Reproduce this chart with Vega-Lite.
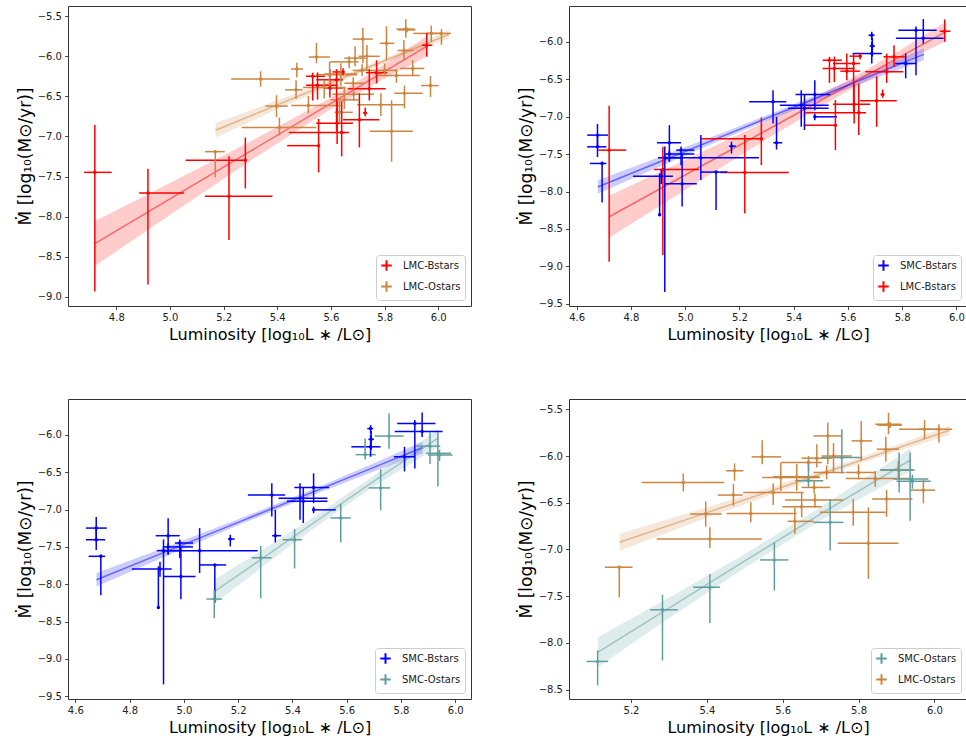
{
  "$schema": "https://vega.github.io/schema/vega-lite/v6.json",
  "padding": {"left": 15, "top": 5, "right": 0, "bottom": 0},
  "config": {
    "font": "DejaVu Sans",
    "view": {"stroke": "#333333", "strokeWidth": 1},
    "axis": {"domain": false, "grid": false, "tickSize": 3.5, "tickColor": "#222222", "tickWidth": 0.8, "labelFont": "DejaVu Sans", "labelFontSize": 10, "labelColor": "#222222", "labelPadding": 3, "titleFont": "DejaVu Sans", "titleFontSize": 16, "titleFontWeight": "normal", "titleColor": "#000000", "labelFlush": false, "labelOverlap": false},
    "axisX": {"titlePadding": 4},
    "axisY": {"titlePadding": 3, "titleFontSize": 17},
    "legend": {"orient": "bottom-right", "offset": 6, "fillColor": "#ffffff", "strokeColor": "#cccccc", "cornerRadius": 3, "padding": 4, "labelFont": "DejaVu Sans", "labelFontSize": 10, "labelColor": "#222222", "symbolType": "M-1,0H1M0,-1V1", "symbolSize": 110, "symbolStrokeWidth": 2, "rowPadding": 2, "labelOffset": 10}
  },
  "datasets": {
    "pts": [
      {"s": "LMC-Bstars", "x": 4.72, "y": -7.448, "x1": 4.68, "x2": 4.783, "y1": -6.857, "y2": -8.936},
      {"s": "LMC-Bstars", "x": 4.918, "y": -7.706, "x1": 4.885, "x2": 5.052, "y1": -7.404, "y2": -8.848},
      {"s": "LMC-Bstars", "x": 5.22, "y": -7.746, "x1": 5.13, "x2": 5.382, "y1": -7.248, "y2": -8.292},
      {"s": "LMC-Bstars", "x": 5.281, "y": -7.297, "x1": 5.058, "x2": 5.285, "y1": -7.013, "y2": -7.648},
      {"s": "LMC-Bstars", "x": 5.532, "y": -6.249, "x1": 5.507, "x2": 5.578, "y1": -6.204, "y2": -6.551},
      {"s": "LMC-Bstars", "x": 5.55, "y": -6.36, "x1": 5.507, "x2": 5.625, "y1": -6.2, "y2": -6.54},
      {"s": "LMC-Bstars", "x": 5.554, "y": -7.115, "x1": 5.437, "x2": 5.554, "y1": -6.782, "y2": -7.448},
      {"s": "LMC-Bstars", "x": 5.596, "y": -6.395, "x1": 5.572, "x2": 5.645, "y1": -6.16, "y2": -6.515},
      {"s": "LMC-Bstars", "x": 5.621, "y": -6.293, "x1": 5.545, "x2": 5.645, "y1": -6.16, "y2": -6.937},
      {"s": "LMC-Bstars", "x": 5.623, "y": -6.835, "x1": 5.545, "x2": 5.682, "y1": -6.56, "y2": -7.093},
      {"s": "LMC-Bstars", "x": 5.64, "y": -6.95, "x1": 5.443, "x2": 5.667, "y1": -6.56, "y2": -7.248},
      {"s": "LMC-Bstars", "x": 5.645, "y": -6.195, "x1": 5.606, "x2": 5.651, "y1": -6.15, "y2": -6.24},
      {"s": "LMC-Bstars", "x": 5.706, "y": -6.791, "x1": 5.645, "x2": 5.78, "y1": -6.462, "y2": -7.137},
      {"s": "LMC-Bstars", "x": 5.728, "y": -6.706, "x1": 5.72, "x2": 5.735, "y1": -6.64, "y2": -6.75},
      {"s": "LMC-Bstars", "x": 5.743, "y": -6.404, "x1": 5.664, "x2": 5.804, "y1": -6.16, "y2": -6.551},
      {"s": "LMC-Bstars", "x": 5.77, "y": -6.204, "x1": 5.731, "x2": 5.81, "y1": -6.049, "y2": -6.338},
      {"s": "LMC-Bstars", "x": 5.957, "y": -5.862, "x1": 5.939, "x2": 5.978, "y1": -5.707, "y2": -6.004},
      {"s": "LMC-Ostars", "x": 5.169, "y": -7.19, "x1": 5.131, "x2": 5.204, "y1": -7.173, "y2": -7.51},
      {"s": "LMC-Ostars", "x": 5.338, "y": -6.283, "x1": 5.228, "x2": 5.446, "y1": -6.187, "y2": -6.379},
      {"s": "LMC-Ostars", "x": 5.397, "y": -6.621, "x1": 5.356, "x2": 5.439, "y1": -6.486, "y2": -6.756},
      {"s": "LMC-Ostars", "x": 5.408, "y": -6.888, "x1": 5.268, "x2": 5.545, "y1": -6.763, "y2": -6.988},
      {"s": "LMC-Ostars", "x": 5.47, "y": -6.418, "x1": 5.429, "x2": 5.494, "y1": -6.3, "y2": -6.532},
      {"s": "LMC-Ostars", "x": 5.473, "y": -6.158, "x1": 5.451, "x2": 5.496, "y1": -6.08, "y2": -6.265},
      {"s": "LMC-Ostars", "x": 5.516, "y": -6.614, "x1": 5.452, "x2": 5.637, "y1": -6.496, "y2": -6.71},
      {"s": "LMC-Ostars", "x": 5.546, "y": -6.009, "x1": 5.518, "x2": 5.596, "y1": -5.831, "y2": -6.087},
      {"s": "LMC-Ostars", "x": 5.575, "y": -6.39, "x1": 5.496, "x2": 5.655, "y1": -6.294, "y2": -6.525},
      {"s": "LMC-Ostars", "x": 5.595, "y": -6.23, "x1": 5.546, "x2": 5.698, "y1": -6.069, "y2": -6.372},
      {"s": "LMC-Ostars", "x": 5.637, "y": -6.222, "x1": 5.575, "x2": 5.696, "y1": -6.087, "y2": -6.372},
      {"s": "LMC-Ostars", "x": 5.632, "y": -6.699, "x1": 5.613, "x2": 5.681, "y1": -6.55, "y2": -6.835},
      {"s": "LMC-Ostars", "x": 5.65, "y": -6.543, "x1": 5.599, "x2": 5.703, "y1": -6.39, "y2": -6.657},
      {"s": "LMC-Ostars", "x": 5.668, "y": -6.069, "x1": 5.596, "x2": 5.703, "y1": -6.0, "y2": -6.15},
      {"s": "LMC-Ostars", "x": 5.685, "y": -6.472, "x1": 5.606, "x2": 5.76, "y1": -6.4, "y2": -6.55},
      {"s": "LMC-Ostars", "x": 5.683, "y": -6.336, "x1": 5.65, "x2": 5.725, "y1": -6.26, "y2": -6.4},
      {"s": "LMC-Ostars", "x": 5.69, "y": -6.023, "x1": 5.65, "x2": 5.729, "y1": -5.874, "y2": -6.123},
      {"s": "LMC-Ostars", "x": 5.719, "y": -5.785, "x1": 5.681, "x2": 5.756, "y1": -5.642, "y2": -6.087},
      {"s": "LMC-Ostars", "x": 5.716, "y": -6.176, "x1": 5.681, "x2": 5.764, "y1": -6.1, "y2": -6.25},
      {"s": "LMC-Ostars", "x": 5.734, "y": -6.0, "x1": 5.703, "x2": 5.782, "y1": -5.86, "y2": -6.17},
      {"s": "LMC-Ostars", "x": 5.786, "y": -6.603, "x1": 5.698, "x2": 5.872, "y1": -6.461, "y2": -6.745},
      {"s": "LMC-Ostars", "x": 5.8, "y": -6.176, "x1": 5.766, "x2": 5.844, "y1": -6.09, "y2": -6.25},
      {"s": "LMC-Ostars", "x": 5.807, "y": -5.838, "x1": 5.782, "x2": 5.836, "y1": -5.625, "y2": -6.052},
      {"s": "LMC-Ostars", "x": 5.826, "y": -6.934, "x1": 5.745, "x2": 5.905, "y1": -6.55, "y2": -7.315},
      {"s": "LMC-Ostars", "x": 5.844, "y": -6.24, "x1": 5.766, "x2": 5.931, "y1": -6.16, "y2": -6.33},
      {"s": "LMC-Ostars", "x": 5.874, "y": -6.461, "x1": 5.836, "x2": 5.942, "y1": -6.365, "y2": -6.65},
      {"s": "LMC-Ostars", "x": 5.872, "y": -5.927, "x1": 5.848, "x2": 5.907, "y1": -5.795, "y2": -6.059},
      {"s": "LMC-Ostars", "x": 5.879, "y": -5.66, "x1": 5.844, "x2": 5.912, "y1": -5.536, "y2": -5.767},
      {"s": "LMC-Ostars", "x": 5.883, "y": -5.67, "x1": 5.85, "x2": 5.915, "y1": -5.64, "y2": -5.7},
      {"s": "LMC-Ostars", "x": 5.905, "y": -6.151, "x1": 5.858, "x2": 5.948, "y1": -6.05, "y2": -6.25},
      {"s": "LMC-Ostars", "x": 5.971, "y": -6.365, "x1": 5.936, "x2": 6.002, "y1": -6.247, "y2": -6.507},
      {"s": "LMC-Ostars", "x": 5.974, "y": -5.714, "x1": 5.907, "x2": 6.015, "y1": -5.617, "y2": -5.82},
      {"s": "LMC-Ostars", "x": 6.012, "y": -5.714, "x1": 5.958, "x2": 6.047, "y1": -5.66, "y2": -5.856},
      {"s": "SMC-Bstars", "x": 4.677, "y": -7.248, "x1": 4.639, "x2": 4.716, "y1": -7.1, "y2": -7.4},
      {"s": "SMC-Bstars", "x": 4.677, "y": -7.404, "x1": 4.639, "x2": 4.71, "y1": -7.25, "y2": -7.54},
      {"s": "SMC-Bstars", "x": 4.694, "y": -7.626, "x1": 4.649, "x2": 4.71, "y1": -7.6, "y2": -8.146},
      {"s": "SMC-Bstars", "x": 4.906, "y": -8.31, "x1": 4.903, "x2": 4.909, "y1": -7.76, "y2": -8.32},
      {"s": "SMC-Bstars", "x": 4.912, "y": -7.795, "x1": 4.808, "x2": 4.955, "y1": -7.7, "y2": -7.9},
      {"s": "SMC-Bstars", "x": 4.925, "y": -7.55, "x1": 4.9, "x2": 4.99, "y1": -7.4, "y2": -9.34},
      {"s": "SMC-Bstars", "x": 4.942, "y": -7.35, "x1": 4.896, "x2": 4.985, "y1": -7.115, "y2": -7.604},
      {"s": "SMC-Bstars", "x": 4.942, "y": -7.5, "x1": 4.922, "x2": 5.034, "y1": -7.45, "y2": -7.6},
      {"s": "SMC-Bstars", "x": 4.985, "y": -7.448, "x1": 4.967, "x2": 5.034, "y1": -7.4, "y2": -7.65},
      {"s": "SMC-Bstars", "x": 4.989, "y": -7.897, "x1": 4.924, "x2": 5.043, "y1": -7.5, "y2": -8.2},
      {"s": "SMC-Bstars", "x": 5.058, "y": -7.55, "x1": 4.924, "x2": 5.272, "y1": -7.248, "y2": -7.848},
      {"s": "SMC-Bstars", "x": 5.114, "y": -7.741, "x1": 5.058, "x2": 5.156, "y1": -7.741, "y2": -8.248},
      {"s": "SMC-Bstars", "x": 5.171, "y": -7.395, "x1": 5.162, "x2": 5.187, "y1": -7.337, "y2": -7.493},
      {"s": "SMC-Bstars", "x": 5.324, "y": -6.804, "x1": 5.236, "x2": 5.373, "y1": -6.649, "y2": -7.093},
      {"s": "SMC-Bstars", "x": 5.337, "y": -7.35, "x1": 5.325, "x2": 5.358, "y1": -7.004, "y2": -7.44},
      {"s": "SMC-Bstars", "x": 5.428, "y": -6.849, "x1": 5.349, "x2": 5.529, "y1": -6.649, "y2": -7.137},
      {"s": "SMC-Bstars", "x": 5.44, "y": -6.89, "x1": 5.38, "x2": 5.529, "y1": -6.7, "y2": -7.18},
      {"s": "SMC-Bstars", "x": 5.478, "y": -6.706, "x1": 5.407, "x2": 5.535, "y1": -6.515, "y2": -6.915},
      {"s": "SMC-Bstars", "x": 5.478, "y": -7.004, "x1": 5.478, "x2": 5.56, "y1": -6.96, "y2": -7.05},
      {"s": "SMC-Bstars", "x": 5.688, "y": -5.916, "x1": 5.676, "x2": 5.698, "y1": -5.87, "y2": -5.98},
      {"s": "SMC-Bstars", "x": 5.69, "y": -6.06, "x1": 5.68, "x2": 5.7, "y1": -5.95, "y2": -6.2},
      {"s": "SMC-Bstars", "x": 5.688, "y": -6.16, "x1": 5.617, "x2": 5.725, "y1": -6.0, "y2": -6.293},
      {"s": "SMC-Bstars", "x": 5.813, "y": -6.293, "x1": 5.774, "x2": 5.853, "y1": -6.16, "y2": -6.49},
      {"s": "SMC-Bstars", "x": 5.851, "y": -5.849, "x1": 5.786, "x2": 5.927, "y1": -5.8, "y2": -6.449},
      {"s": "SMC-Bstars", "x": 5.878, "y": -5.956, "x1": 5.777, "x2": 5.953, "y1": -5.7, "y2": -6.03},
      {"s": "SMC-Ostars", "x": 5.112, "y": -8.198, "x1": 5.083, "x2": 5.14, "y1": -8.08, "y2": -8.454},
      {"s": "SMC-Ostars", "x": 5.283, "y": -7.646, "x1": 5.25, "x2": 5.323, "y1": -7.486, "y2": -8.187},
      {"s": "SMC-Ostars", "x": 5.408, "y": -7.404, "x1": 5.364, "x2": 5.435, "y1": -7.262, "y2": -7.788},
      {"s": "SMC-Ostars", "x": 5.578, "y": -7.112, "x1": 5.54, "x2": 5.615, "y1": -6.923, "y2": -7.44},
      {"s": "SMC-Ostars", "x": 5.725, "y": -6.71, "x1": 5.681, "x2": 5.76, "y1": -6.46, "y2": -7.012},
      {"s": "SMC-Ostars", "x": 5.756, "y": -6.016, "x1": 5.703, "x2": 5.81, "y1": -5.714, "y2": -6.187},
      {"s": "SMC-Ostars", "x": 5.668, "y": -6.265, "x1": 5.633, "x2": 5.707, "y1": -6.05, "y2": -6.33},
      {"s": "SMC-Ostars", "x": 5.907, "y": -6.151, "x1": 5.857, "x2": 5.945, "y1": -5.963, "y2": -6.39},
      {"s": "SMC-Ostars", "x": 5.936, "y": -6.247, "x1": 5.892, "x2": 5.984, "y1": -5.963, "y2": -6.692},
      {"s": "SMC-Ostars", "x": 5.942, "y": -6.27, "x1": 5.9, "x2": 5.99, "y1": -6.2, "y2": -6.35}
    ],
    "fit": [
      {"s": "LMC-Bstars", "x": 4.72, "y": -8.337, "lo": -8.617, "hi": -8.057},
      {"s": "LMC-Bstars", "x": 5.0, "y": -7.78, "lo": -7.98, "hi": -7.58},
      {"s": "LMC-Bstars", "x": 5.3, "y": -7.183, "lo": -7.303, "hi": -7.063},
      {"s": "LMC-Bstars", "x": 5.6, "y": -6.586, "lo": -6.656, "hi": -6.516},
      {"s": "LMC-Bstars", "x": 5.8, "y": -6.188, "lo": -6.278, "hi": -6.098},
      {"s": "LMC-Bstars", "x": 5.96, "y": -5.87, "lo": -6.0, "hi": -5.74},
      {"s": "LMC-Ostars", "x": 5.17, "y": -6.923, "lo": -7.013, "hi": -6.833},
      {"s": "LMC-Ostars", "x": 5.4, "y": -6.606, "lo": -6.661, "hi": -6.551},
      {"s": "LMC-Ostars", "x": 5.7, "y": -6.193, "lo": -6.223, "hi": -6.163},
      {"s": "LMC-Ostars", "x": 5.9, "y": -5.918, "lo": -5.953, "hi": -5.883},
      {"s": "LMC-Ostars", "x": 6.04, "y": -5.725, "lo": -5.775, "hi": -5.675},
      {"s": "SMC-Bstars", "x": 4.678, "y": -7.94, "lo": -8.03, "hi": -7.85},
      {"s": "SMC-Bstars", "x": 4.9, "y": -7.613, "lo": -7.678, "hi": -7.548},
      {"s": "SMC-Bstars", "x": 5.2, "y": -7.171, "lo": -7.211, "hi": -7.131},
      {"s": "SMC-Bstars", "x": 5.5, "y": -6.73, "lo": -6.77, "hi": -6.69},
      {"s": "SMC-Bstars", "x": 5.7, "y": -6.435, "lo": -6.49, "hi": -6.38},
      {"s": "SMC-Bstars", "x": 5.88, "y": -6.17, "lo": -6.25, "hi": -6.09},
      {"s": "SMC-Ostars", "x": 5.112, "y": -8.1, "lo": -8.26, "hi": -7.94},
      {"s": "SMC-Ostars", "x": 5.3, "y": -7.627, "lo": -7.737, "hi": -7.517},
      {"s": "SMC-Ostars", "x": 5.5, "y": -7.123, "lo": -7.198, "hi": -7.048},
      {"s": "SMC-Ostars", "x": 5.7, "y": -6.619, "lo": -6.689, "hi": -6.549},
      {"s": "SMC-Ostars", "x": 5.938, "y": -6.04, "lo": -6.16, "hi": -5.92}
    ]
  },
  "resolve": {"scale": {"color": "independent", "fill": "independent", "stroke": "independent"}, "legend": {"color": "independent"}},
  "spacing": 55,
  "vconcat": [
    {
      "spacing": 44,
      "resolve": {"scale": {"color": "independent", "fill": "independent", "stroke": "independent"}, "legend": {"color": "independent"}},
      "hconcat": [
        {
          "width": 403, "height": 300,
          "layer": [
            {"data": {"name": "fit"}, "transform": [{"filter": {"field": "s", "oneOf": ["LMC-Bstars", "LMC-Ostars"]}}],
             "mark": {"type": "area", "opacity": 0.2, "clip": true},
             "encoding": {
               "x": {"field": "x", "type": "quantitative", "scale": {"domain": [4.62, 6.122], "nice": false, "zero": false}, "title": "Luminosity [log₁₀L ∗ /L⊙]", "axis": {"values": [4.8, 5.0, 5.2, 5.4, 5.6, 5.8, 6.0], "format": ".1f"}},
               "y": {"field": "lo", "type": "quantitative", "scale": {"domain": [-9.116, -5.372], "nice": false, "zero": false}, "title": "Ṁ [log₁₀(M⊙/yr)]", "axis": {"values": [-9.0, -8.5, -8.0, -7.5, -7.0, -6.5, -6.0, -5.5], "format": ".1f"}},
               "y2": {"field": "hi"},
               "fill": {"field": "s", "type": "nominal", "scale": {"range": ["#ff0000", "#cd853f"]}, "legend": null}}},
            {"data": {"name": "fit"}, "transform": [{"filter": {"field": "s", "oneOf": ["LMC-Bstars", "LMC-Ostars"]}}],
             "mark": {"type": "line", "opacity": 0.5, "strokeWidth": 1.5, "clip": true},
             "encoding": {
               "x": {"field": "x", "type": "quantitative", "scale": {"domain": [4.62, 6.122], "nice": false, "zero": false}, "title": "Luminosity [log₁₀L ∗ /L⊙]"},
               "y": {"field": "y", "type": "quantitative", "scale": {"domain": [-9.116, -5.372], "nice": false, "zero": false}, "title": "Ṁ [log₁₀(M⊙/yr)]"},
               "stroke": {"field": "s", "type": "nominal", "scale": {"range": ["#ff0000", "#cd853f"]}, "legend": null}}},
            {"data": {"name": "pts"}, "transform": [{"filter": {"field": "s", "oneOf": ["LMC-Bstars", "LMC-Ostars"]}}],
             "mark": {"type": "rule", "strokeWidth": 1.5, "clip": true},
             "encoding": {
               "x": {"field": "x1", "type": "quantitative", "scale": {"domain": [4.62, 6.122], "nice": false, "zero": false}, "title": "Luminosity [log₁₀L ∗ /L⊙]"},
               "x2": {"field": "x2"},
               "y": {"field": "y", "type": "quantitative", "scale": {"domain": [-9.116, -5.372], "nice": false, "zero": false}, "title": "Ṁ [log₁₀(M⊙/yr)]"},
               "color": {"field": "s", "type": "nominal", "scale": {"domain": ["LMC-Bstars", "LMC-Ostars"], "range": ["#ff0000", "#cd853f"]}, "legend": {"title": null}}}},
            {"data": {"name": "pts"}, "transform": [{"filter": {"field": "s", "oneOf": ["LMC-Bstars", "LMC-Ostars"]}}],
             "mark": {"type": "rule", "strokeWidth": 1.5, "clip": true},
             "encoding": {
               "x": {"field": "x", "type": "quantitative", "scale": {"domain": [4.62, 6.122], "nice": false, "zero": false}, "title": "Luminosity [log₁₀L ∗ /L⊙]"},
               "y": {"field": "y1", "type": "quantitative", "scale": {"domain": [-9.116, -5.372], "nice": false, "zero": false}, "title": "Ṁ [log₁₀(M⊙/yr)]"},
               "y2": {"field": "y2"},
               "stroke": {"field": "s", "type": "nominal", "scale": {"range": ["#ff0000", "#cd853f"]}, "legend": null}}},
            {"data": {"name": "pts"}, "transform": [{"filter": {"field": "s", "oneOf": ["LMC-Bstars", "LMC-Ostars"]}}],
             "mark": {"type": "circle", "size": 12, "opacity": 1, "clip": true},
             "encoding": {
               "x": {"field": "x", "type": "quantitative", "scale": {"domain": [4.62, 6.122], "nice": false, "zero": false}, "title": "Luminosity [log₁₀L ∗ /L⊙]"},
               "y": {"field": "y", "type": "quantitative", "scale": {"domain": [-9.116, -5.372], "nice": false, "zero": false}, "title": "Ṁ [log₁₀(M⊙/yr)]"},
               "fill": {"field": "s", "type": "nominal", "scale": {"range": ["#ff0000", "#cd853f"]}, "legend": null}}}
          ]
        },
        {
          "width": 398, "height": 300,
          "layer": [
            {"data": {"name": "fit"}, "transform": [{"filter": {"field": "s", "oneOf": ["SMC-Bstars", "LMC-Bstars"]}}],
             "mark": {"type": "area", "opacity": 0.2, "clip": true},
             "encoding": {
               "x": {"field": "x", "type": "quantitative", "scale": {"domain": [4.572, 6.039], "nice": false, "zero": false}, "title": "Luminosity [log₁₀L ∗ /L⊙]", "axis": {"values": [4.6, 4.8, 5.0, 5.2, 5.4, 5.6, 5.8, 6.0], "format": ".1f"}},
               "y": {"field": "lo", "type": "quantitative", "scale": {"domain": [-9.527, -5.526], "nice": false, "zero": false}, "title": "Ṁ [log₁₀(M⊙/yr)]", "axis": {"values": [-9.5, -9.0, -8.5, -8.0, -7.5, -7.0, -6.5, -6.0], "format": ".1f"}},
               "y2": {"field": "hi"},
               "fill": {"field": "s", "type": "nominal", "scale": {"range": ["#ff0000", "#0000ff"]}, "legend": null}}},
            {"data": {"name": "fit"}, "transform": [{"filter": {"field": "s", "oneOf": ["SMC-Bstars", "LMC-Bstars"]}}],
             "mark": {"type": "line", "opacity": 0.5, "strokeWidth": 1.5, "clip": true},
             "encoding": {
               "x": {"field": "x", "type": "quantitative", "scale": {"domain": [4.572, 6.039], "nice": false, "zero": false}, "title": "Luminosity [log₁₀L ∗ /L⊙]"},
               "y": {"field": "y", "type": "quantitative", "scale": {"domain": [-9.527, -5.526], "nice": false, "zero": false}, "title": "Ṁ [log₁₀(M⊙/yr)]"},
               "stroke": {"field": "s", "type": "nominal", "scale": {"range": ["#ff0000", "#0000ff"]}, "legend": null}}},
            {"data": {"name": "pts"}, "transform": [{"filter": {"field": "s", "oneOf": ["SMC-Bstars", "LMC-Bstars"]}}],
             "mark": {"type": "rule", "strokeWidth": 1.5, "clip": true},
             "encoding": {
               "x": {"field": "x1", "type": "quantitative", "scale": {"domain": [4.572, 6.039], "nice": false, "zero": false}, "title": "Luminosity [log₁₀L ∗ /L⊙]"},
               "x2": {"field": "x2"},
               "y": {"field": "y", "type": "quantitative", "scale": {"domain": [-9.527, -5.526], "nice": false, "zero": false}, "title": "Ṁ [log₁₀(M⊙/yr)]"},
               "color": {"field": "s", "type": "nominal", "scale": {"domain": ["SMC-Bstars", "LMC-Bstars"], "range": ["#0000ff", "#ff0000"]}, "legend": {"title": null}}}},
            {"data": {"name": "pts"}, "transform": [{"filter": {"field": "s", "oneOf": ["SMC-Bstars", "LMC-Bstars"]}}],
             "mark": {"type": "rule", "strokeWidth": 1.5, "clip": true},
             "encoding": {
               "x": {"field": "x", "type": "quantitative", "scale": {"domain": [4.572, 6.039], "nice": false, "zero": false}, "title": "Luminosity [log₁₀L ∗ /L⊙]"},
               "y": {"field": "y1", "type": "quantitative", "scale": {"domain": [-9.527, -5.526], "nice": false, "zero": false}, "title": "Ṁ [log₁₀(M⊙/yr)]"},
               "y2": {"field": "y2"},
               "stroke": {"field": "s", "type": "nominal", "scale": {"range": ["#ff0000", "#0000ff"]}, "legend": null}}},
            {"data": {"name": "pts"}, "transform": [{"filter": {"field": "s", "oneOf": ["SMC-Bstars", "LMC-Bstars"]}}],
             "mark": {"type": "circle", "size": 12, "opacity": 1, "clip": true},
             "encoding": {
               "x": {"field": "x", "type": "quantitative", "scale": {"domain": [4.572, 6.039], "nice": false, "zero": false}, "title": "Luminosity [log₁₀L ∗ /L⊙]"},
               "y": {"field": "y", "type": "quantitative", "scale": {"domain": [-9.527, -5.526], "nice": false, "zero": false}, "title": "Ṁ [log₁₀(M⊙/yr)]"},
               "fill": {"field": "s", "type": "nominal", "scale": {"range": ["#ff0000", "#0000ff"]}, "legend": null}}}
          ]
        }
      ]
    },
    {
      "spacing": 44,
      "resolve": {"scale": {"color": "independent", "fill": "independent", "stroke": "independent"}, "legend": {"color": "independent"}},
      "hconcat": [
        {
          "width": 403, "height": 300,
          "layer": [
            {"data": {"name": "fit"}, "transform": [{"filter": {"field": "s", "oneOf": ["SMC-Bstars", "SMC-Ostars"]}}],
             "mark": {"type": "area", "opacity": 0.2, "clip": true},
             "encoding": {
               "x": {"field": "x", "type": "quantitative", "scale": {"domain": [4.573, 6.058], "nice": false, "zero": false}, "title": "Luminosity [log₁₀L ∗ /L⊙]", "axis": {"values": [4.6, 4.8, 5.0, 5.2, 5.4, 5.6, 5.8, 6.0], "format": ".1f"}},
               "y": {"field": "lo", "type": "quantitative", "scale": {"domain": [-9.536, -5.52], "nice": false, "zero": false}, "title": "Ṁ [log₁₀(M⊙/yr)]", "axis": {"values": [-9.5, -9.0, -8.5, -8.0, -7.5, -7.0, -6.5, -6.0], "format": ".1f"}},
               "y2": {"field": "hi"},
               "fill": {"field": "s", "type": "nominal", "scale": {"range": ["#0000ff", "#5f9ea0"]}, "legend": null}}},
            {"data": {"name": "fit"}, "transform": [{"filter": {"field": "s", "oneOf": ["SMC-Bstars", "SMC-Ostars"]}}],
             "mark": {"type": "line", "opacity": 0.5, "strokeWidth": 1.5, "clip": true},
             "encoding": {
               "x": {"field": "x", "type": "quantitative", "scale": {"domain": [4.573, 6.058], "nice": false, "zero": false}, "title": "Luminosity [log₁₀L ∗ /L⊙]"},
               "y": {"field": "y", "type": "quantitative", "scale": {"domain": [-9.536, -5.52], "nice": false, "zero": false}, "title": "Ṁ [log₁₀(M⊙/yr)]"},
               "stroke": {"field": "s", "type": "nominal", "scale": {"range": ["#0000ff", "#5f9ea0"]}, "legend": null}}},
            {"data": {"name": "pts"}, "transform": [{"filter": {"field": "s", "oneOf": ["SMC-Bstars", "SMC-Ostars"]}}],
             "mark": {"type": "rule", "strokeWidth": 1.5, "clip": true},
             "encoding": {
               "x": {"field": "x1", "type": "quantitative", "scale": {"domain": [4.573, 6.058], "nice": false, "zero": false}, "title": "Luminosity [log₁₀L ∗ /L⊙]"},
               "x2": {"field": "x2"},
               "y": {"field": "y", "type": "quantitative", "scale": {"domain": [-9.536, -5.52], "nice": false, "zero": false}, "title": "Ṁ [log₁₀(M⊙/yr)]"},
               "color": {"field": "s", "type": "nominal", "scale": {"domain": ["SMC-Bstars", "SMC-Ostars"], "range": ["#0000ff", "#5f9ea0"]}, "legend": {"title": null}}}},
            {"data": {"name": "pts"}, "transform": [{"filter": {"field": "s", "oneOf": ["SMC-Bstars", "SMC-Ostars"]}}],
             "mark": {"type": "rule", "strokeWidth": 1.5, "clip": true},
             "encoding": {
               "x": {"field": "x", "type": "quantitative", "scale": {"domain": [4.573, 6.058], "nice": false, "zero": false}, "title": "Luminosity [log₁₀L ∗ /L⊙]"},
               "y": {"field": "y1", "type": "quantitative", "scale": {"domain": [-9.536, -5.52], "nice": false, "zero": false}, "title": "Ṁ [log₁₀(M⊙/yr)]"},
               "y2": {"field": "y2"},
               "stroke": {"field": "s", "type": "nominal", "scale": {"range": ["#0000ff", "#5f9ea0"]}, "legend": null}}},
            {"data": {"name": "pts"}, "transform": [{"filter": {"field": "s", "oneOf": ["SMC-Bstars", "SMC-Ostars"]}}],
             "mark": {"type": "circle", "size": 12, "opacity": 1, "clip": true},
             "encoding": {
               "x": {"field": "x", "type": "quantitative", "scale": {"domain": [4.573, 6.058], "nice": false, "zero": false}, "title": "Luminosity [log₁₀L ∗ /L⊙]"},
               "y": {"field": "y", "type": "quantitative", "scale": {"domain": [-9.536, -5.52], "nice": false, "zero": false}, "title": "Ṁ [log₁₀(M⊙/yr)]"},
               "fill": {"field": "s", "type": "nominal", "scale": {"range": ["#0000ff", "#5f9ea0"]}, "legend": null}}}
          ]
        },
        {
          "width": 398, "height": 300,
          "layer": [
            {"data": {"name": "fit"}, "transform": [{"filter": {"field": "s", "oneOf": ["SMC-Ostars", "LMC-Ostars"]}}],
             "mark": {"type": "area", "opacity": 0.2, "clip": true},
             "encoding": {
               "x": {"field": "x", "type": "quantitative", "scale": {"domain": [5.0365, 6.086], "nice": false, "zero": false}, "title": "Luminosity [log₁₀L ∗ /L⊙]", "axis": {"values": [5.2, 5.4, 5.6, 5.8, 6.0], "format": ".1f"}},
               "y": {"field": "lo", "type": "quantitative", "scale": {"domain": [-8.6, -5.39], "nice": false, "zero": false}, "title": "Ṁ [log₁₀(M⊙/yr)]", "axis": {"values": [-8.5, -8.0, -7.5, -7.0, -6.5, -6.0, -5.5], "format": ".1f"}},
               "y2": {"field": "hi"},
               "fill": {"field": "s", "type": "nominal", "scale": {"range": ["#cd853f", "#5f9ea0"]}, "legend": null}}},
            {"data": {"name": "fit"}, "transform": [{"filter": {"field": "s", "oneOf": ["SMC-Ostars", "LMC-Ostars"]}}],
             "mark": {"type": "line", "opacity": 0.5, "strokeWidth": 1.5, "clip": true},
             "encoding": {
               "x": {"field": "x", "type": "quantitative", "scale": {"domain": [5.0365, 6.086], "nice": false, "zero": false}, "title": "Luminosity [log₁₀L ∗ /L⊙]"},
               "y": {"field": "y", "type": "quantitative", "scale": {"domain": [-8.6, -5.39], "nice": false, "zero": false}, "title": "Ṁ [log₁₀(M⊙/yr)]"},
               "stroke": {"field": "s", "type": "nominal", "scale": {"range": ["#cd853f", "#5f9ea0"]}, "legend": null}}},
            {"data": {"name": "pts"}, "transform": [{"filter": {"field": "s", "oneOf": ["SMC-Ostars", "LMC-Ostars"]}}],
             "mark": {"type": "rule", "strokeWidth": 1.5, "clip": true},
             "encoding": {
               "x": {"field": "x1", "type": "quantitative", "scale": {"domain": [5.0365, 6.086], "nice": false, "zero": false}, "title": "Luminosity [log₁₀L ∗ /L⊙]"},
               "x2": {"field": "x2"},
               "y": {"field": "y", "type": "quantitative", "scale": {"domain": [-8.6, -5.39], "nice": false, "zero": false}, "title": "Ṁ [log₁₀(M⊙/yr)]"},
               "color": {"field": "s", "type": "nominal", "scale": {"domain": ["SMC-Ostars", "LMC-Ostars"], "range": ["#5f9ea0", "#cd853f"]}, "legend": {"title": null}}}},
            {"data": {"name": "pts"}, "transform": [{"filter": {"field": "s", "oneOf": ["SMC-Ostars", "LMC-Ostars"]}}],
             "mark": {"type": "rule", "strokeWidth": 1.5, "clip": true},
             "encoding": {
               "x": {"field": "x", "type": "quantitative", "scale": {"domain": [5.0365, 6.086], "nice": false, "zero": false}, "title": "Luminosity [log₁₀L ∗ /L⊙]"},
               "y": {"field": "y1", "type": "quantitative", "scale": {"domain": [-8.6, -5.39], "nice": false, "zero": false}, "title": "Ṁ [log₁₀(M⊙/yr)]"},
               "y2": {"field": "y2"},
               "stroke": {"field": "s", "type": "nominal", "scale": {"range": ["#cd853f", "#5f9ea0"]}, "legend": null}}},
            {"data": {"name": "pts"}, "transform": [{"filter": {"field": "s", "oneOf": ["SMC-Ostars", "LMC-Ostars"]}}],
             "mark": {"type": "circle", "size": 12, "opacity": 1, "clip": true},
             "encoding": {
               "x": {"field": "x", "type": "quantitative", "scale": {"domain": [5.0365, 6.086], "nice": false, "zero": false}, "title": "Luminosity [log₁₀L ∗ /L⊙]"},
               "y": {"field": "y", "type": "quantitative", "scale": {"domain": [-8.6, -5.39], "nice": false, "zero": false}, "title": "Ṁ [log₁₀(M⊙/yr)]"},
               "fill": {"field": "s", "type": "nominal", "scale": {"range": ["#cd853f", "#5f9ea0"]}, "legend": null}}}
          ]
        }
      ]
    }
  ]
}
